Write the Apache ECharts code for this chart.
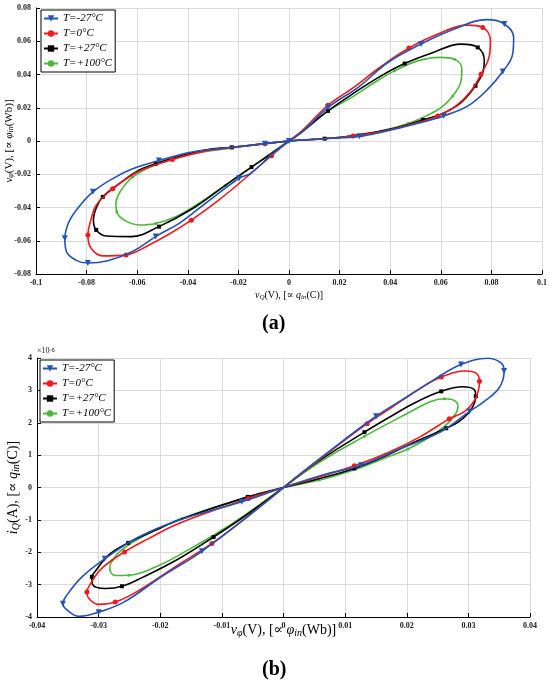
<!DOCTYPE html>
<html>
<head>
<meta charset="utf-8" />
<script src="https://cdn.jsdelivr.net/npm/echarts@6/dist/echarts.min.js"></script>
<title>Pinched hysteresis loops vs temperature</title>
<style>
html,body{margin:0;padding:0;background:#fff;}
#main{width:550px;height:688px;}
</style>
</head>
<body>
<div id="main"></div>
<script>
// legend names and look of the four temperatures
var names = ['T=-27\u00B0C', 'T=0\u00B0C', 'T=+27\u00B0C', 'T=+100\u00B0C'];
var colors = ['#2353b4', '#f2191c', '#000000', '#4db73c'];
var symbols = ['triangle', 'circle', 'rect', 'circle'];
var symbolSizes = [6, 5, 4, 3];

// axis ticks
var aTicks = {xmin: -0.1, xmax: 0.1, xstep: 0.02, ymin: -0.08, ymax: 0.08, ystep: 0.02};
var bTicks = {xmin: -0.04, xmax: 0.04, xstep: 0.01, ymin: -4, ymax: 4, ystep: 1};

// (a) v_Q (x) vs v_phi (y)
var aBlue = [[0,0],
  [0.0053,0.0056],[0.0154,0.0201],[0.0276,0.0326],[0.0391,0.0472],[0.0522,0.0583],[0.0654,0.0673],[0.0782,0.073],[0.0851,0.0704],[0.0888,0.0623],[0.0884,0.0523],[0.0845,0.0418],[0.0786,0.0312],[0.0707,0.0211],[0.0611,0.0151],[0.0496,0.0101],[0.0378,0.0058],[0.0279,0.0028],[0.0141,0.0014],
  [0,0],
  [-0.0095,-0.0016],[-0.0226,-0.0038],[-0.0383,-0.0066],[-0.0514,-0.0117],[-0.0618,-0.0167],[-0.0686,-0.0217],[-0.0775,-0.0306],[-0.0841,-0.0416],[-0.0871,-0.049],[-0.0886,-0.0585],[-0.088,-0.0665],[-0.0841,-0.0718],[-0.0795,-0.0734],[-0.0716,-0.072],[-0.0618,-0.0665],[-0.0527,-0.0575],[-0.0431,-0.0492],[-0.0331,-0.0376],[-0.0197,-0.0224],[-0.0154,-0.0197],[-0.0069,-0.0082],
  [0,0]];
var aRed = [[0,0],
  [0.0053,0.0064],[0.0154,0.0215],[0.025,0.0316],[0.0364,0.0448],[0.0474,0.0559],[0.0588,0.0643],[0.0703,0.0697],[0.0766,0.0683],[0.0796,0.0603],[0.0792,0.0513],[0.0759,0.0402],[0.072,0.0302],[0.066,0.0211],[0.0588,0.0151],[0.0496,0.0105],[0.0378,0.006],[0.0253,0.003],[0.0141,0.0014],
  [0,0],
  [-0.0095,-0.0016],[-0.0226,-0.004],[-0.0341,-0.0064],[-0.0461,-0.0111],[-0.0553,-0.0157],[-0.0618,-0.0203],[-0.0697,-0.0287],[-0.0762,-0.0386],[-0.0782,-0.047],[-0.0795,-0.0565],[-0.0782,-0.0645],[-0.0736,-0.0691],[-0.0644,-0.0685],[-0.0553,-0.0625],[-0.0468,-0.0555],[-0.0386,-0.0476],[-0.0278,-0.0356],[-0.0152,-0.0197],[-0.0069,-0.0088],
  [0,0]];
var aBlack = [[0,0],
  [0.0049,0.0054],[0.0154,0.0181],[0.0259,0.0291],[0.0364,0.0392],[0.0457,0.0466],[0.0562,0.0528],[0.068,0.0583],[0.0746,0.0563],[0.0772,0.0482],[0.0766,0.0412],[0.0737,0.0332],[0.068,0.0231],[0.0601,0.0161],[0.0529,0.0127],[0.0417,0.0076],[0.0246,0.003],[0.0141,0.0014],
  [0,0],
  [-0.0095,-0.0016],[-0.0226,-0.0038],[-0.0331,-0.0054],[-0.0448,-0.0098],[-0.0527,-0.0137],[-0.0595,-0.0177],[-0.0671,-0.0257],[-0.0736,-0.0336],[-0.076,-0.0396],[-0.0773,-0.0476],[-0.0762,-0.0535],[-0.0723,-0.0571],[-0.0625,-0.0575],[-0.0514,-0.0515],[-0.0374,-0.04],[-0.0252,-0.0267],[-0.0148,-0.0157],[-0.0069,-0.0075],
  [0,0]];
var aGreen = [[0,0],
  [0.0049,0.005],[0.0154,0.0181],[0.0246,0.0261],[0.0338,0.0352],[0.0417,0.0422],[0.0509,0.0482],[0.0597,0.0503],[0.0654,0.0492],[0.0683,0.0432],[0.068,0.0362],[0.0647,0.0271],[0.0601,0.0201],[0.0542,0.0151],[0.047,0.0105],[0.0364,0.006],[0.0246,0.003],[0.0141,0.0014],
  [0,0],
  [-0.0095,-0.0017],[-0.0226,-0.0042],[-0.0383,-0.0078],[-0.0533,-0.0147],[-0.0618,-0.0217],[-0.0664,-0.0297],[-0.0684,-0.0376],[-0.0681,-0.0426],[-0.0651,-0.0476],[-0.0592,-0.0505],[-0.0527,-0.0496],[-0.0448,-0.0456],[-0.0357,-0.0376],[-0.0252,-0.0267],[-0.0148,-0.0157],[-0.0069,-0.0072],
  [0,0]];

// (b) v_phi (x) vs i_Q in units of 1e-6 A (y)
var bBlue = [[0,0],
  [0.00665,1.005],[0.01503,2.2],[0.0202,2.82],[0.0245,3.34],[0.0288,3.8],[0.0331,3.99],[0.0353,3.85],[0.0358,3.6],[0.035,3.08],[0.0326,2.66],[0.0302,2.35],[0.0256,1.73],[0.0191,1.21],[0.0126,0.69],[0.00665,0.4],
  [0,0],
  [-0.00676,-0.44],[-0.017,-1.01],[-0.0235,-1.53],[-0.029,-2.2],[-0.0327,-2.76],[-0.0351,-3.31],[-0.0358,-3.59],[-0.0351,-3.79],[-0.0332,-3.98],[-0.03,-3.85],[-0.0259,-3.54],[-0.0197,-2.74],[-0.01324,-1.97],[-0.0025,-0.4],
  [0,0]];
var bRed = [[0,0],
  [0.00595,0.88],[0.01357,1.97],[0.01746,2.46],[0.02178,3.01],[0.0256,3.41],[0.0296,3.6],[0.0312,3.54],[0.0318,3.28],[0.0312,2.77],[0.0294,2.35],[0.0269,2.12],[0.0223,1.58],[0.0171,1.09],[0.0115,0.67],[0.00584,0.33],
  [0,0],
  [-0.0057,-0.34],[-0.017,-1.11],[-0.0219,-1.58],[-0.0258,-1.99],[-0.0295,-2.5],[-0.0314,-3.0],[-0.0319,-3.23],[-0.0316,-3.43],[-0.03,-3.61],[-0.0273,-3.54],[-0.0232,-3.15],[-0.0176,-2.45],[-0.01162,-1.73],[-0.0055,-0.85],
  [0,0]];
var bBlack = [[0,0],
  [0.00557,0.8],[0.01314,1.71],[0.01746,2.2],[0.02124,2.61],[0.0256,2.97],[0.0291,3.11],[0.0309,3.03],[0.0312,2.82],[0.0304,2.4],[0.0285,2.04],[0.0264,1.83],[0.0212,1.4],[0.0166,0.98],[0.0115,0.59],[0.00584,0.28],
  [0,0],
  [-0.0058,-0.29],[-0.0168,-0.99],[-0.0208,-1.32],[-0.0252,-1.71],[-0.0284,-2.09],[-0.0305,-2.58],[-0.0311,-2.76],[-0.031,-2.99],[-0.0289,-3.12],[-0.0262,-3.05],[-0.0227,-2.76],[-0.017,-2.2],[-0.01135,-1.53],[-0.0055,-0.78],
  [0,0]];
var bGreen = [[0,0],
  [0.00584,0.78],[0.01314,1.58],[0.0202,2.3],[0.0239,2.66],[0.0261,2.74],[0.0277,2.69],[0.0283,2.51],[0.0277,2.2],[0.0261,1.89],[0.0234,1.52],[0.0202,1.19],[0.0166,0.92],[0.0121,0.59],[0.00584,0.23],
  [0,0],
  [-0.0057,-0.29],[-0.0165,-0.96],[-0.023,-1.53],[-0.0262,-1.92],[-0.0278,-2.25],[-0.0282,-2.51],[-0.0273,-2.72],[-0.0251,-2.71],[-0.0205,-2.43],[-0.0154,-1.92],[-0.01,-1.32],[-0.0055,-0.75],
  [0,0]];

var serif = 'Liberation Serif, DejaVu Serif, serif';

// only every third point carries a marker
function withMarkers(pts) {
    var out = [];
    for (var i = 0; i < pts.length; i++) {
        if (i % 3 === 2) out.push({value: pts[i]});
        else out.push({value: pts[i], symbol: 'none'});
    }
    return out;
}

function makeSeries(list, grid) {
    var s = [];
    for (var k = 0; k < list.length; k++) {
        s.push({
            name: names[k],
            type: 'line',
            xAxisIndex: grid,
            yAxisIndex: grid,
            smooth: 0.4,
            showAllSymbol: true,
            symbol: symbols[k],
            symbolSize: symbolSizes[k],
            symbolRotate: k === 0 ? 180 : 0,
            lineStyle: {width: 1.6, color: colors[k]},
            itemStyle: {color: colors[k]},
            z: 10 - k,
            data: withMarkers(list[k])
        });
    }
    return s;
}

function valueAxis(grid, t, isX, name, gap, size) {
    return {
        gridIndex: grid,
        type: 'value',
        min: isX ? t.xmin : t.ymin,
        max: isX ? t.xmax : t.ymax,
        interval: isX ? t.xstep : t.ystep,
        name: name,
        nameLocation: 'middle',
        nameGap: gap,
        nameMoveOverlap: false,
        nameTextStyle: {
            fontFamily: serif, fontSize: size, color: '#000',
            rich: {
                i: {fontFamily: serif, fontStyle: 'italic', fontSize: size, color: '#000'},
                s: {fontFamily: serif, fontStyle: 'italic', fontSize: Math.round(size * 0.7), color: '#000', verticalAlign: 'bottom', padding: [Math.round(size * 0.4), 0, 0, 0]}
            }
        },
        axisLine: {onZero: false, lineStyle: {color: '#000', width: 1}},
        axisTick: {inside: true, length: 4, lineStyle: {color: '#000'}},
        axisLabel: {fontFamily: serif, fontWeight: 'bold', fontSize: 8, color: '#222', margin: 5},
        splitLine: {show: true, lineStyle: {color: '#dadada', width: 1}}
    };
}

function legendAt(left, top) {
    return {
        data: names,
        orient: 'vertical',
        left: left,
        top: top,
        backgroundColor: '#fff',
        borderColor: '#000',
        borderWidth: 1,
        padding: [3, 3, 3, 2],
        itemGap: 4,
        itemWidth: 14,
        itemHeight: 8,
        textStyle: {fontFamily: serif, fontStyle: 'italic', fontSize: 11, color: '#000'}
    };
}

var myChart = echarts.init(document.getElementById('main'), null, {renderer: 'canvas'});
var option = {
    animation: false,
    backgroundColor: '#fff',
    grid: [
        {left: 36, top: 8, width: 506, height: 266, containLabel: false, outerBoundsMode: 'none'},
        {left: 37, top: 358, width: 493, height: 259, containLabel: false, outerBoundsMode: 'none'}
    ],
    legend: [legendAt(41, 10), legendAt(40, 360)],
    xAxis: [
        valueAxis(0, aTicks, true, '{i|v}{s|Q}(V), [\u221D {i|q}{s|in}(C)]', 16, 10),
        valueAxis(1, bTicks, true, '{i|v}{s|\u03C6}(V), [\u221D {i|\u03C6}{s|in}(Wb)]', 5, 14)
    ],
    yAxis: [
        valueAxis(0, aTicks, false, '{i|v}{s|\u03C6}(V), [\u221D {i|\u03C6}{s|in}(Wb)]', 21, 11),
        valueAxis(1, bTicks, false, '{i|i}{s|Q}(A), [\u221D {i|q}{s|in}(C)]', 16, 14)
    ],
    graphic: [
        {type: 'text', left: 262, top: 314, style: {text: '(a)', font: 'bold 20px ' + serif, fill: '#000'}},
        {type: 'text', left: 262, top: 660, style: {text: '(b)', font: 'bold 20px ' + serif, fill: '#000'}},
        {type: 'text', left: 37, top: 347, style: {
            text: '\u00D710{sup|-6}', font: '8px ' + serif, fill: '#222',
            rich: {sup: {fontSize: 6, verticalAlign: 'top', fill: '#222'}}
        }}
    ],
    series: makeSeries([aBlue, aRed, aBlack, aGreen], 0).concat(makeSeries([bBlue, bRed, bBlack, bGreen], 1))
};
myChart.setOption(option);
</script>
</body>
</html>
